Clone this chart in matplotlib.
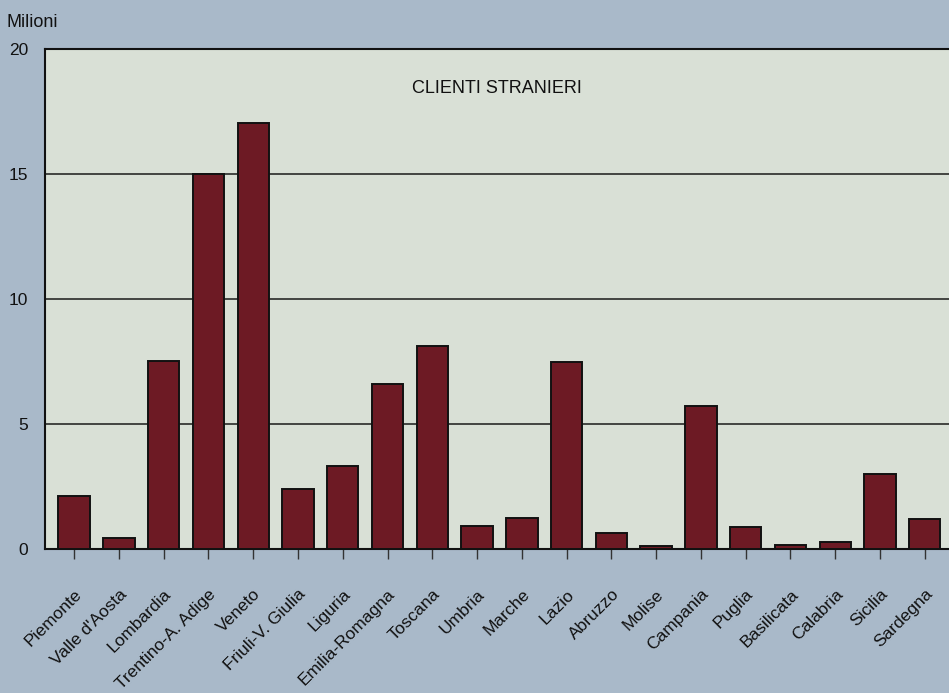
import numpy as np
import matplotlib
matplotlib.use("Agg")
import matplotlib.pyplot as plt

regioni = ["Piemonte", "Valle d'Aosta", "Lombardia", "Trentino-A. Adige", "Veneto",
           "Friuli-V. Giulia", "Liguria", "Emilia-Romagna", "Toscana", "Umbria",
           "Marche", "Lazio", "Abruzzo", "Molise", "Campania", "Puglia",
           "Basilicata", "Calabria", "Sicilia", "Sardegna"]
clienti = [2.1, 0.44, 7.5, 15.0, 17.05, 2.4, 3.3, 6.6, 8.1, 0.92,
           1.24, 7.48, 0.63, 0.1, 5.72, 0.89, 0.17, 0.28, 3.0, 1.2]
yticks = [0, 5, 10, 15, 20]

plt.rcParams['font.family'] = ['Liberation Sans', 'DejaVu Sans']

fig = plt.figure(figsize=(9.49, 6.93), dpi=100)
fig.patch.set_facecolor('#a9b9c9')
ax = fig.add_axes([0.0474, 0.2078, 0.9526, 0.7215])
ax.set_facecolor('#d9e0d6')

x = np.arange(len(regioni))
ax.bar(x, clienti, width=0.7, color='#6d1a24', edgecolor='#111111',
       linewidth=1.4, zorder=3)

ax.set_ylim(0, 20)
ax.set_xlim(-0.65, 19.54)
ax.set_yticks(yticks)
ax.set_yticklabels([str(t) for t in yticks], fontsize=12.5, color='#111111')
for t in yticks[1:4]:
    ax.axhline(t, color='#1a1a1a', linewidth=1.1, zorder=2)

ax.set_xticks(x)
ax.set_xticklabels(regioni, rotation=45, ha='right', va='top',
                   rotation_mode='anchor', fontsize=12.5, color='#111111')
ax.tick_params(axis='x', direction='out', length=7, width=1, color='#333333', pad=20)
ax.tick_params(axis='y', length=0, pad=12)

for s in ['left', 'bottom', 'top']:
    ax.spines[s].set_color('#111111')
    ax.spines[s].set_linewidth(1.5)
ax.spines['right'].set_visible(False)

fig.text(0.007, 0.968, "Milioni", fontsize=13, ha='left', va='center', color='#111111')
ax.text(0.5, 0.921, "CLIENTI STRANIERI", transform=ax.transAxes, fontsize=13,
        ha='center', va='center', color='#111111')

fig.savefig("out.png", dpi=100, facecolor=fig.get_facecolor())
